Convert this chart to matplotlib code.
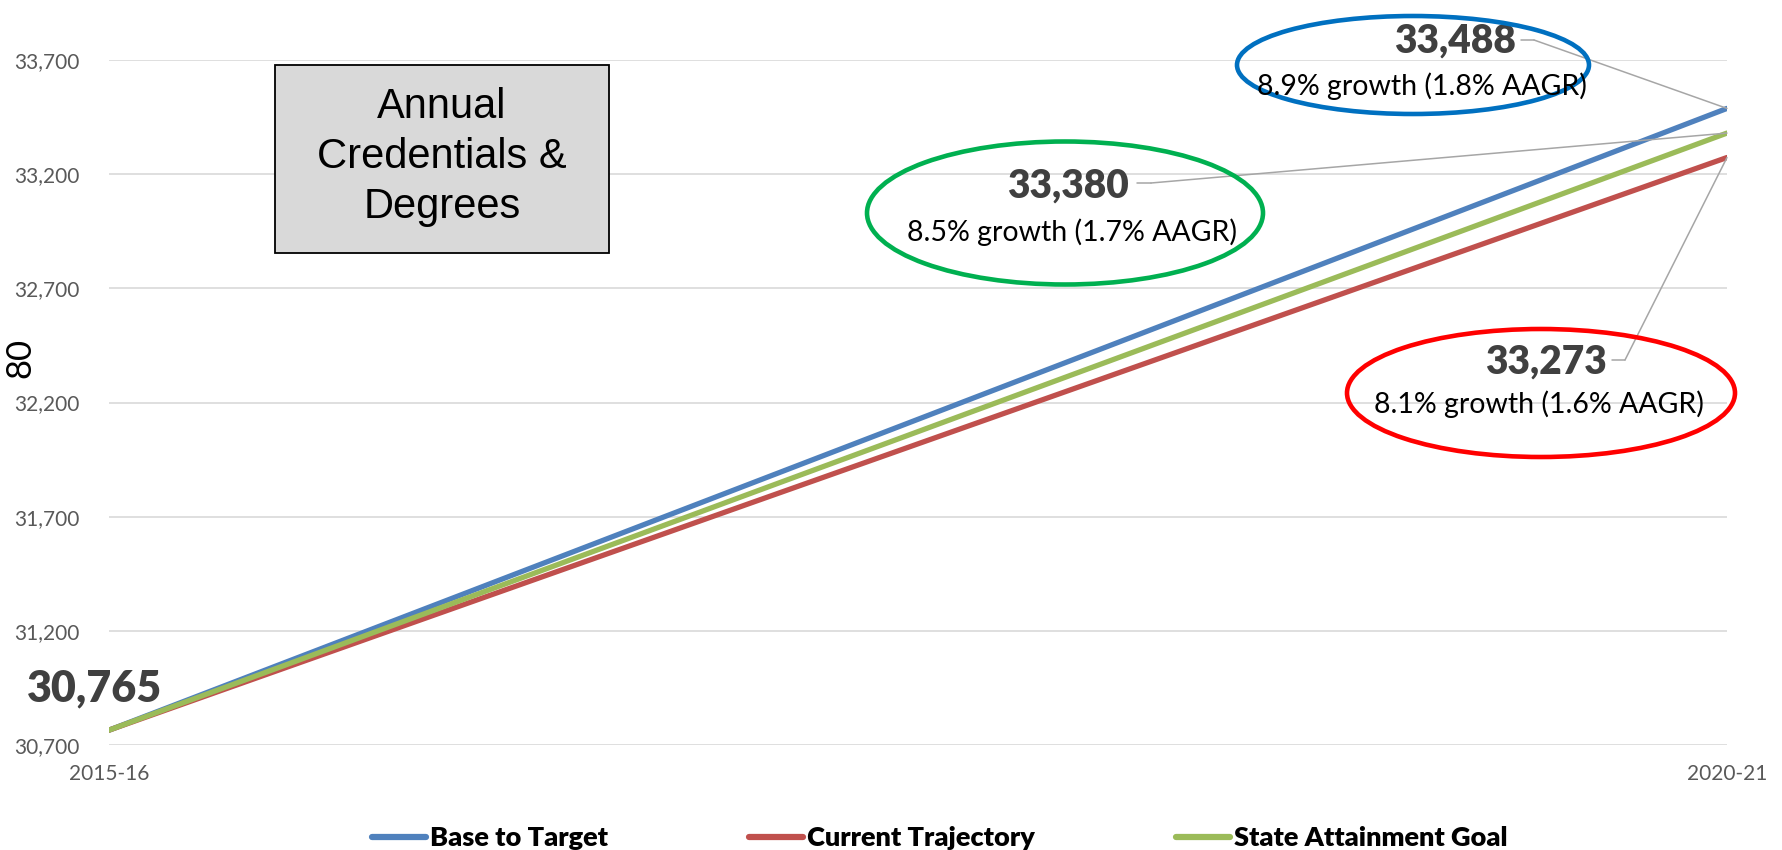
import matplotlib
matplotlib.use("Agg")
import matplotlib.pyplot as plt
from matplotlib.patches import Ellipse, Rectangle

W, H = 1783, 850

# data
years = ["2015-16", "2020-21"]
base_to_target = [30765, 33488]
current_trajectory = [30765, 33273]
state_goal = [30765, 33380]
growth_notes = ["8.9% growth (1.8% AAGR)", "8.1% growth (1.6% AAGR)", "8.5% growth (1.7% AAGR)"]
yticks = [30700, 31200, 31700, 32200, 32700, 33200, 33700]

plt.rcParams['font.family'] = ['Lato', 'DejaVu Sans']

fig = plt.figure(figsize=(W / 100, H / 100), dpi=100)
ax = fig.add_axes([109 / W, 1 - 745 / H, (1727 - 109) / W, (745 - 60) / H])

x = range(len(years))
ax.plot(x, base_to_target, color='#4F81BD', lw=3.8, solid_capstyle='round', label='Base to Target')
ax.plot(x, current_trajectory, color='#C0504D', lw=3.8, solid_capstyle='round', label='Current Trajectory')
ax.plot(x, state_goal, color='#9BBB59', lw=3.8, solid_capstyle='round', label='State Attainment Goal')

ax.set_xlim(0, 1)
ax.set_ylim(yticks[0], yticks[-1])
ax.set_yticks(yticks)
ax.set_yticklabels([f"{v:,}" for v in yticks])
ax.set_xticks(list(x))
ax.set_xticklabels(years)
ax.tick_params(axis='y', length=0, pad=21, labelsize=15, labelcolor='#595959')
ax.tick_params(axis='x', length=0, pad=14, labelsize=15, labelcolor='#595959')
ax.grid(axis='y', color='#D9D9D9', lw=1.2)
ax.set_axisbelow(True)
for s in ax.spines.values():
    s.set_visible(False)

fig.text(20 / W, 1 - 358 / H, "80", rotation=90, ha='center', va='center',
         fontsize=25, color='black')

# start label
ax.annotate(f"{base_to_target[0]:,}", xy=(0, base_to_target[0]), xytext=(95, H - 688),
            textcoords='figure pixels', ha='center', va='center',
            fontsize=31, fontweight='heavy', color='#404040')

# end labels with leader lines
ends = [
    (base_to_target[1], (1455, 41), (1422, 86), (1521, 1534, 40), '#0070C0', (1413, 65, 352, 98)),
    (current_trajectory[1], (1546, 362), (1539, 404), (1612, 1625, 360), '#FF0000', (1541, 393, 388, 128)),
    (state_goal[1], (1068, 186), (1072, 232), (1137, 1151, 183), '#00B050', (1065, 213, 396, 143)),
]
for (val, num_pos, note_pos, stub, ecol, ell), note in zip(ends, growth_notes):
    ax.annotate(f"{val:,}", xy=(1, val), xytext=(num_pos[0], H - num_pos[1]),
                textcoords='figure pixels', ha='center', va='center',
                fontsize=28, fontweight='heavy', color='#404040')
    fig.text(note_pos[0] / W, 1 - note_pos[1] / H, note, ha='center', va='center',
             fontsize=20.5, color='black')
    ax.annotate('', xy=(stub[1], H - stub[2]), xytext=(stub[0], H - stub[2]),
                xycoords='figure pixels', textcoords='figure pixels',
                arrowprops=dict(arrowstyle='-', color='#A6A6A6', lw=1.1, shrinkA=0, shrinkB=0))
    ax.annotate('', xy=(1, val), xytext=(stub[1], H - stub[2]), textcoords='figure pixels',
                arrowprops=dict(arrowstyle='-', color='#A6A6A6', lw=1.1, shrinkA=0, shrinkB=0))
    cx, cy, ew, eh = ell
    fig.add_artist(Ellipse((cx / W, 1 - cy / H), ew / W, eh / H, transform=fig.transFigure,
                           fill=False, edgecolor=ecol, lw=3.3))

# title box
fig.add_artist(Rectangle((275 / W, 1 - 253 / H), (609 - 275) / W, (253 - 65) / H,
                         transform=fig.transFigure, facecolor='#D9D9D9', edgecolor='black', lw=1.3))
fig.text(442 / W, 1 - 157 / H, "Annual\nCredentials &\nDegrees", ha='center', va='center',
         fontsize=30, family='Liberation Sans', color='black', linespacing=1.32)

leg = fig.legend(loc='center', bbox_to_anchor=(940 / W, 1 - 838 / H), ncol=3, frameon=False,
                 prop={'weight': 'heavy', 'size': 19.5}, handlelength=2.0, handletextpad=0.15,
                 columnspacing=5.2)
for h in leg.get_lines():
    h.set_linewidth(4.5)

fig.savefig("out.png", dpi=100)
